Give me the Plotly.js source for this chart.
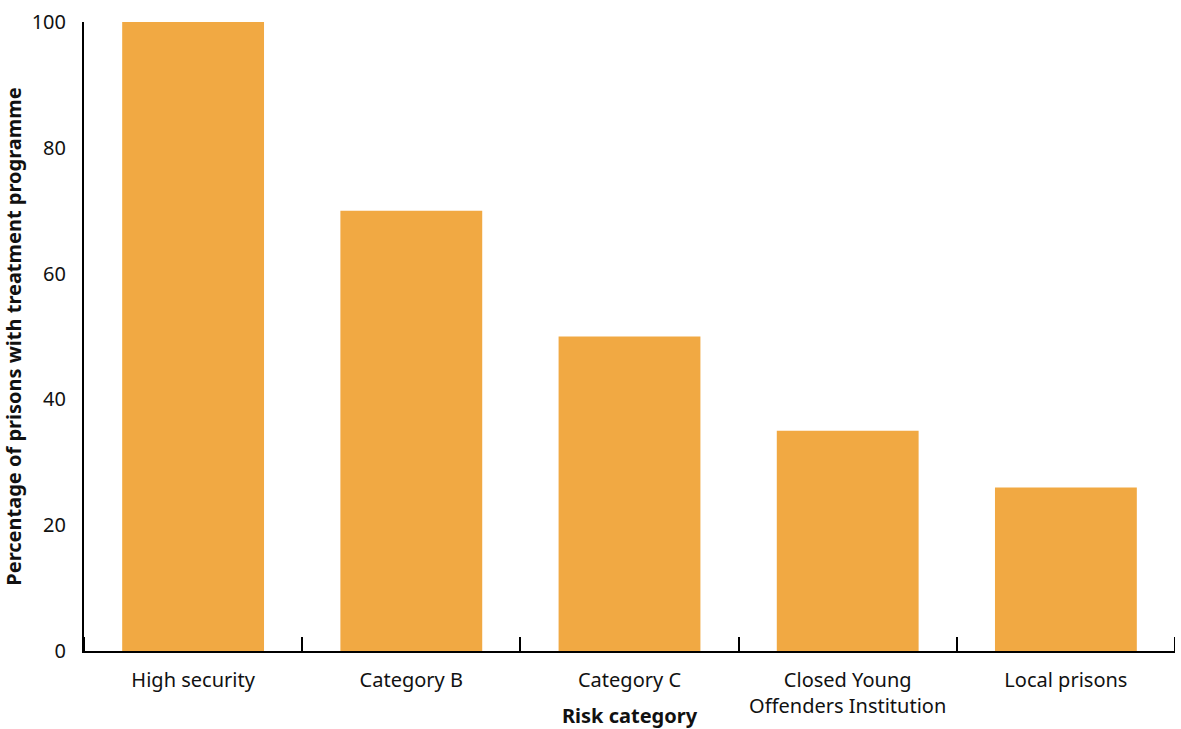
<!DOCTYPE html>
<html>
<head>
<meta charset="utf-8">
<script src="https://cdn.plot.ly/plotly-3.0.1.min.js"></script>
<style>
  html, body { margin: 0; padding: 0; background: #fff; }
  #chart { width: 1181px; height: 729px; }
</style>
</head>
<body>
<div id="chart"></div>
<script>
// Prison risk categories and share of prisons running a treatment programme
const categories = [
  "High security",
  "Category B",
  "Category C",
  "Closed Young<br>Offenders Institution",
  "Local prisons"
];
const percentWithProgramme = [100, 70, 50, 35, 26];
const yTickValues = [0, 20, 40, 60, 80, 100];

const barColor = "#F1A943";
const fontFamily = "'Noto Sans', 'Open Sans', sans-serif";
const tickLenPx = 14;
const plotHeightPx = 729 - 22 - 78;

const trace = {
  type: "bar",
  x: categories,
  y: percentWithProgramme,
  marker: { color: barColor, line: { width: 0 } },
  hoverinfo: "x+y"
};

// Boundary ticks at both outer edges of the category axis
const edgeTicks = [-0.5, categories.length - 0.5].map(pos => ({
  type: "line",
  xref: "x",
  yref: "paper",
  x0: pos, x1: pos,
  y0: 0, y1: tickLenPx / plotHeightPx,
  line: { color: "#000000", width: 2 }
}));

const layout = {
  width: 1181,
  height: 729,
  margin: { l: 84, r: 6, t: 22, b: 78 },
  paper_bgcolor: "#ffffff",
  plot_bgcolor: "#ffffff",
  showlegend: false,
  bargap: 0.35,
  font: { family: fontFamily, color: "#111111", size: 20 },
  shapes: edgeTicks,
  xaxis: {
    type: "category",
    range: [-0.5, categories.length - 0.5],
    showline: true,
    linecolor: "#000000",
    linewidth: 2,
    ticks: "inside",
    tickson: "boundaries",
    ticklen: tickLenPx,
    tickwidth: 2,
    tickcolor: "#000000",
    showgrid: false,
    zeroline: false,
    tickfont: { family: fontFamily, size: 20, color: "#111111" },
    ticklabelstandoff: 10,
    title: {
      text: "<b>Risk category</b>",
      font: { family: fontFamily, size: 20, color: "#111111" },
      standoff: 0
    }
  },
  yaxis: {
    range: [0, 100],
    tickvals: yTickValues,
    ticktext: yTickValues.map(String),
    showline: true,
    linecolor: "#000000",
    linewidth: 2,
    ticks: "",
    showgrid: false,
    zeroline: false,
    tickfont: { family: fontFamily, size: 20, color: "#111111" },
    ticklabelstandoff: 12,
    title: {
      text: "<b>Percentage of prisons with treatment programme</b>",
      font: { family: fontFamily, size: 20, color: "#111111" },
      standoff: 7
    }
  }
};

Plotly.newPlot("chart", [trace], layout, { displayModeBar: false, staticPlot: true });
</script>
</body>
</html>
